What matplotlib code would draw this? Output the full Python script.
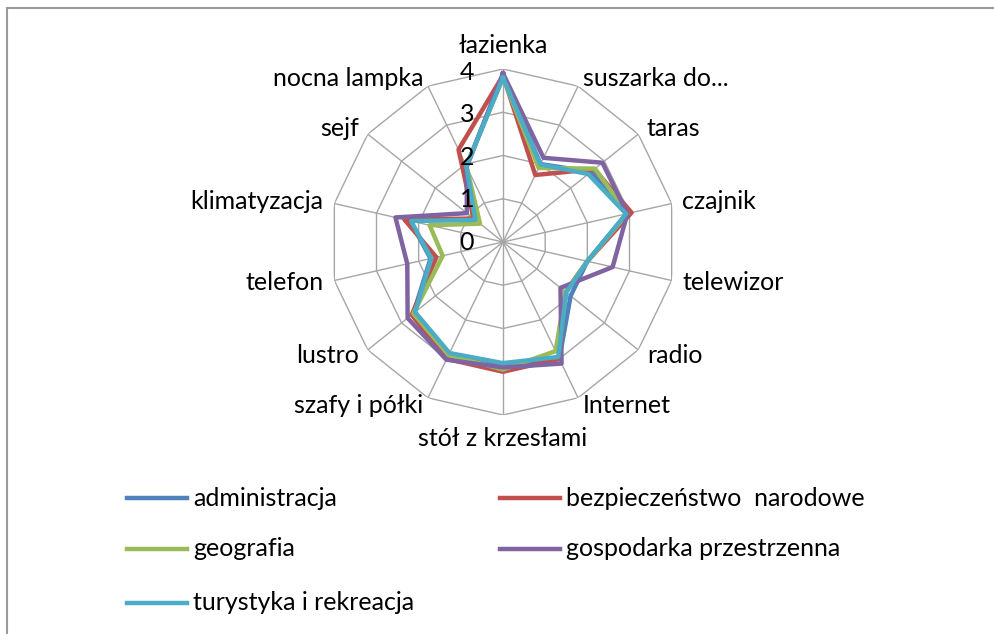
import numpy as np
import matplotlib.pyplot as plt
from matplotlib.lines import Line2D
from matplotlib.patches import Rectangle

plt.rcParams['font.family'] = ['Lato', 'DejaVu Sans']

categories = ['łazienka', 'suszarka do...', 'taras', 'czajnik', 'telewizor', 'radio',
              'Internet', 'stół z krzesłami', 'szafy i półki', 'lustro', 'telefon',
              'klimatyzacja', 'sejf', 'nocna lampka']

administracja = [3.85, 2.0, 2.6, 2.93, 2.0, 2.0, 3.0, 2.85, 2.9, 2.65, 1.72, 2.2, 0.85, 1.95]
bezpieczenstwo = [3.85, 1.72, 2.7, 3.05, 2.0, 1.85, 3.0, 3.0, 3.0, 2.7, 1.58, 2.34, 0.87, 2.37]
geografia = [3.8, 1.9, 2.72, 2.95, 2.0, 1.85, 2.8, 2.95, 2.9, 2.65, 1.43, 1.74, 0.68, 1.95]
gospodarka = [3.9, 2.16, 2.94, 2.95, 2.6, 1.7, 3.12, 2.9, 3.02, 2.82, 2.27, 2.55, 1.07, 1.93]
turystyka = [3.8, 1.99, 2.52, 2.92, 2.0, 1.87, 2.95, 2.8, 2.85, 2.6, 1.7, 2.18, 0.82, 1.95]

series_names = ['administracja', 'bezpieczeństwo  narodowe', 'geografia',
                'gospodarka przestrzenna', 'turystyka i rekreacja']
series = [administracja, bezpieczenstwo, geografia, gospodarka, turystyka]
colors = ['#4F81BD', '#C0504D', '#9BBB59', '#8064A2', '#4BACC6']
rticks = [0, 1, 2, 3, 4]

W, H = 995, 634
fs = 18
fig = plt.figure(figsize=(W / 100, H / 100), dpi=100)

# outer chart frame (right and bottom edges fall outside the picture)
fig.add_artist(Rectangle((7 / W, -0.05), 1.2, 1 - 8 / H + 0.05, transform=fig.transFigure,
                         fill=False, edgecolor='#9a9a9a', linewidth=1.5))

cx, cy, R = 503, 242, 173
ax = fig.add_axes([(cx - R) / W, (H - cy - R) / H, 2 * R / W, 2 * R / H], projection='polar')
ax.set_theta_zero_location('N')
ax.set_theta_direction(-1)
ax.set_ylim(0, 4)
ax.grid(False)
ax.spines['polar'].set_visible(False)
ax.set_xticks([])
ax.set_yticks([])
ax.patch.set_alpha(0)

n = len(categories)
theta = np.arange(n) * 2 * np.pi / n
tc = np.append(theta, theta[0])

# polygon gridlines and spokes
for r in rticks[1:]:
    ax.plot(tc, [r] * (n + 1), color='#a6a6a6', lw=1.0, zorder=1)
for t in theta:
    ax.plot([t, t], [0, rticks[-1]], color='#a6a6a6', lw=1.0, zorder=1)

for vals, col in zip(series, colors):
    v = list(vals) + [vals[0]]
    ax.plot(tc, v, color=col, lw=3.2, solid_joinstyle='round', zorder=3)

# radial tick labels
for r in rticks:
    ax.annotate(str(r), xy=(0, r), xytext=(-36, -0.8 * r), textcoords='offset pixels',
                ha='center', va='center', fontsize=fs, color='black', zorder=5)

# category labels
for t, lab in zip(theta, categories):
    s, c = np.sin(t), np.cos(t)
    if s > 0.05:
        ha = 'left'
    elif s < -0.05:
        ha = 'right'
    else:
        ha = 'center'
    if abs(s) < 0.05:
        va = 'bottom' if c > 0 else 'top'
        dy = 12 * c
    else:
        va = 'center'
        dy = 9 * c
    ax.annotate(lab, xy=(t, rticks[-1]), xytext=(11 * s, dy), textcoords='offset pixels',
                ha=ha, va=va, fontsize=fs, color='black', annotation_clip=False)

# legend
leg_pos = [(127, 498), (500, 498), (127, 549), (500, 549), (127, 603)]
for (lx, ly), name, col in zip(leg_pos, series_names, colors):
    fig.add_artist(Line2D([lx / W, (lx + 60) / W], [1 - ly / H, 1 - ly / H],
                          transform=fig.transFigure, color=col, lw=3.2))
    fig.text((lx + 66) / W, 1 - ly / H, name, ha='left', va='center', fontsize=fs)

fig.savefig('out.png', dpi=100)
